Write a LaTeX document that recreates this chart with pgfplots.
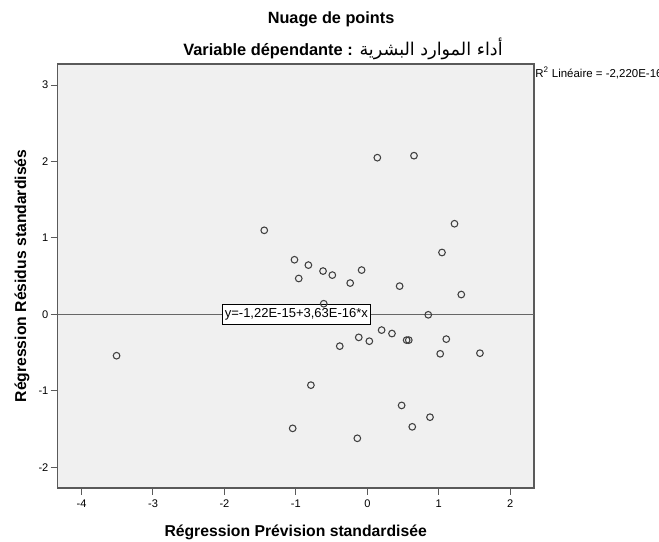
\documentclass[border=0pt]{standalone}
\usepackage{fontspec}
\setmainfont{Liberation Sans}
\newfontfamily\arabicfont[Script=Arabic]{DejaVu Sans}
\TeXXeTstate=1
\usepackage{pgfplots}
\pgfplotsset{compat=1.18}
\definecolor{plotbg}{HTML}{F0F0F0}
\definecolor{framec}{HTML}{5A5A5A}
\definecolor{markc}{HTML}{404040}
\definecolor{fitc}{HTML}{666666}

\pgfplotstableread{
x y
-3.51 -0.54
-1.443 1.10
-1.02 0.715
-0.96 0.47
-0.825 0.645
-0.62 0.567
-0.49 0.514
-0.24 0.41
-0.08 0.58
0.14 2.05
0.653 2.076
1.22 1.186
1.045 0.81
0.452 0.37
1.315 0.26
-0.61 0.14
0.853 -0.005
0.20 -0.205
0.345 -0.25
-0.12 -0.30
0.028 -0.35
-0.386 -0.415
0.55 -0.336
0.58 -0.336
1.105 -0.323
1.02 -0.515
1.576 -0.507
-0.79 -0.925
-1.045 -1.49
-0.14 -1.62
0.48 -1.19
0.877 -1.344
0.629 -1.47
}\residus

\begin{document}
\begin{tikzpicture}
\path[use as bounding box] (-43pt,-40.3pt) rectangle (451.25pt,366pt);
\begin{axis}[
  at={(0,0)}, anchor=south west,
  scale only axis, width=357.5pt, height=318pt,
  xmin=-4.339, xmax=2.333, ymin=-2.27, ymax=3.275,
  axis background/.style={fill=plotbg},
  axis line style={draw=framec, line width=0.9pt},
  xtick={-4,-3,-2,-1,0,1,2}, ytick={-2,-1,0,1,2,3},
  tick align=outside, xtick pos=bottom, ytick pos=left,
  major tick length=5pt,
  tick style={draw=framec, line width=0.75pt},
  /pgf/number format/assume math mode=true,
  ticklabel style={font=\fontsize{8.3}{9}\selectfont, text=black},
  xticklabel style={anchor=north, inner sep=0pt, yshift=-3.5pt},
  yticklabel style={anchor=east, inner sep=0pt, xshift=-1.5pt},
  xlabel={Régression Prévision standardisée},
  ylabel={Régression Résidus standardisés},
  xlabel style={at={(axis description cs:0.5,0)}, anchor=base, yshift=-36.5pt, font=\fontsize{11.8}{14}\selectfont\bfseries},
  ylabel style={at={(axis description cs:-0.0657,0.5)}, anchor=base, font=\fontsize{11.8}{14}\selectfont\bfseries},
  clip=true,
]
\addplot[fitc, line width=0.75pt] coordinates {(-4.339,0) (2.333,0)};
\addplot[only marks, mark=o, mark size=2.5pt, mark options={draw=markc, line width=0.8pt}] table[x=x, y=y] {\residus};
\node[draw=black, fill=white, line width=0.6pt, inner xsep=1.5pt, inner ysep=3pt, font=\fontsize{9.75}{11}\selectfont] at (axis cs:-0.993,0) {y=-1,22E-15+3,63E-16*x};
\end{axis}
\node[anchor=base, font=\fontsize{12.2}{14}\selectfont\bfseries] at (205.3pt,348.5pt) {Nuage de points};
\node[anchor=base west, inner sep=0pt, font=\fontsize{12.3}{14}\selectfont\bfseries] at (94.3pt,324.2pt) {Variable dépendante :\hspace{5pt}{\arabicfont\mdseries\fontsize{13.2}{14}\selectfont\beginR أداء الموارد البشرية\endR}};
\node[anchor=base west, inner sep=0pt, font=\fontsize{8.6}{10}\selectfont] at (358.3pt,307.7pt) {R\textsuperscript{2} Linéaire = -2,220E-16};
\end{tikzpicture}
\end{document}
